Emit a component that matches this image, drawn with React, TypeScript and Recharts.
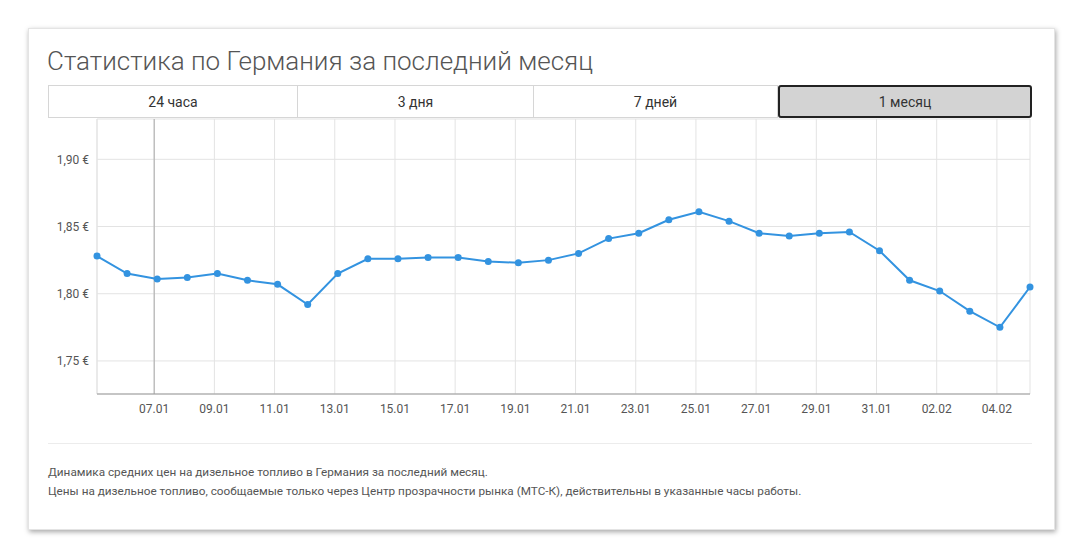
import React from 'react';
import { LineChart, Line, XAxis, YAxis, CartesianGrid, ReferenceLine } from 'recharts';

// Days from 05.01 to 05.02 (index 0..31)
const dayLabels = [
  '05.01', '06.01', '07.01', '08.01', '09.01', '10.01', '11.01', '12.01',
  '13.01', '14.01', '15.01', '16.01', '17.01', '18.01', '19.01', '20.01',
  '21.01', '22.01', '23.01', '24.01', '25.01', '26.01', '27.01', '28.01',
  '29.01', '30.01', '31.01', '01.02', '02.02', '03.02', '04.02', '05.02',
];

// Average diesel price, € per litre
const prices = [
  1.828, 1.815, 1.811, 1.812, 1.815, 1.810, 1.807, 1.792,
  1.815, 1.826, 1.826, 1.827, 1.827, 1.824, 1.823, 1.825,
  1.830, 1.841, 1.845, 1.855, 1.861, 1.854, 1.845, 1.843,
  1.845, 1.846, 1.832, 1.810, 1.802, 1.787, 1.775, 1.805,
];

// samples are taken a little after midnight (fraction of a day)
const sampleTime = 0.1;

const xTicks = [2, 4, 6, 8, 10, 12, 14, 16, 18, 20, 22, 24, 26, 28, 30];
const yTicks = [1.75, 1.8, 1.85, 1.9];
const tabs = ['24 часа', '3 дня', '7 дней', '1 месяц'];
const tabWidths = [250, 236, 244, 254];

const chartData = prices.map((p, i) => ({ day: i + sampleTime, price: p }));

const font = 'Roboto, "Noto Sans", Arial, sans-serif';

const App: React.FC = () => {
  return (
    <div style={{ position: 'absolute', left: 0, top: 0, width: 1083, height: 558, background: '#fff', fontFamily: font }}>
      {/* card */}
      <div
        style={{
          position: 'absolute', left: 28, top: 28, width: 1025, height: 500,
          background: '#fff', border: '1px solid #e4e4e4',
          boxShadow: '1px 2px 5px rgba(0,0,0,0.35)',
        }}
      />
      <div
        style={{
          position: 'absolute', left: 47, top: 44, fontSize: 26, fontWeight: 300,
          color: '#555', whiteSpace: 'nowrap', lineHeight: '34px',
        }}
      >
        Статистика по Германия за последний месяц
      </div>

      {/* period tabs */}
      <div style={{ position: 'absolute', left: 48, top: 85, height: 33, display: 'flex' }}>
        {tabs.map((t, i) => {
          const active = i === tabs.length - 1;
          return (
            <div
              key={t}
              style={{
                width: tabWidths[i], height: 33, boxSizing: 'border-box',
                border: active ? '2px solid #222' : '1px solid #d6d6d6',
                borderLeft: active ? '2px solid #222' : i === 0 ? '1px solid #d6d6d6' : 'none',
                borderRadius: active ? 3 : 0,
                background: active ? '#d3d3d3' : '#fff',
                display: 'flex', alignItems: 'center', justifyContent: 'center',
                fontSize: 14, color: '#333',
              }}
            >
              {t}
            </div>
          );
        })}
      </div>

      <div style={{ position: 'absolute', left: 0, top: 100 }}>
        <LineChart
          width={1083}
          height={330}
          data={chartData}
          margin={{ top: 19, right: 53, left: 38, bottom: 6 }}
        >
          <CartesianGrid stroke="#e3e3e3" strokeWidth={1} />
          <XAxis
            dataKey="day"
            type="number"
            domain={[sampleTime, 31 + sampleTime]}
            ticks={xTicks}
            tickFormatter={(v: number) => dayLabels[v]}
            tickLine={false}
            axisLine={{ stroke: '#999' }}
            tick={{ fontSize: 12, fill: '#555', fontFamily: font }}
            tickMargin={4}
            height={30}
            interval={0}
          />
          <YAxis
            type="number"
            domain={[1.7254, 1.93]}
            ticks={yTicks}
            tickFormatter={(v: number) => v.toFixed(2).replace('.', ',') + ' €'}
            tickLine={false}
            axisLine={false}
            tick={{ fontSize: 12, fill: '#555', fontFamily: font }}
            width={59}
          />
          <ReferenceLine x={sampleTime} stroke="#e3e3e3" strokeWidth={1} />
          <ReferenceLine x={2} stroke="#aaa" strokeWidth={1} />
          <Line
            type="linear"
            dataKey="price"
            stroke="#3393e0"
            strokeWidth={2}
            dot={{ r: 3.5, fill: '#3393e0', stroke: '#3393e0', strokeWidth: 0 }}
            isAnimationActive={false}
          />
        </LineChart>
      </div>

      <div style={{ position: 'absolute', left: 48, top: 443, width: 984, height: 1, background: '#ececec' }} />
      <div style={{ position: 'absolute', left: 48, top: 463, fontSize: 11.75, color: '#555', lineHeight: '19px' }}>
        <div>Динамика средних цен на дизельное топливо в Германия за последний месяц.</div>
        <div>Цены на дизельное топливо, сообщаемые только через Центр прозрачности рынка (МТС-К), действительны в указанные часы работы.</div>
      </div>
    </div>
  );
};

export default App;
